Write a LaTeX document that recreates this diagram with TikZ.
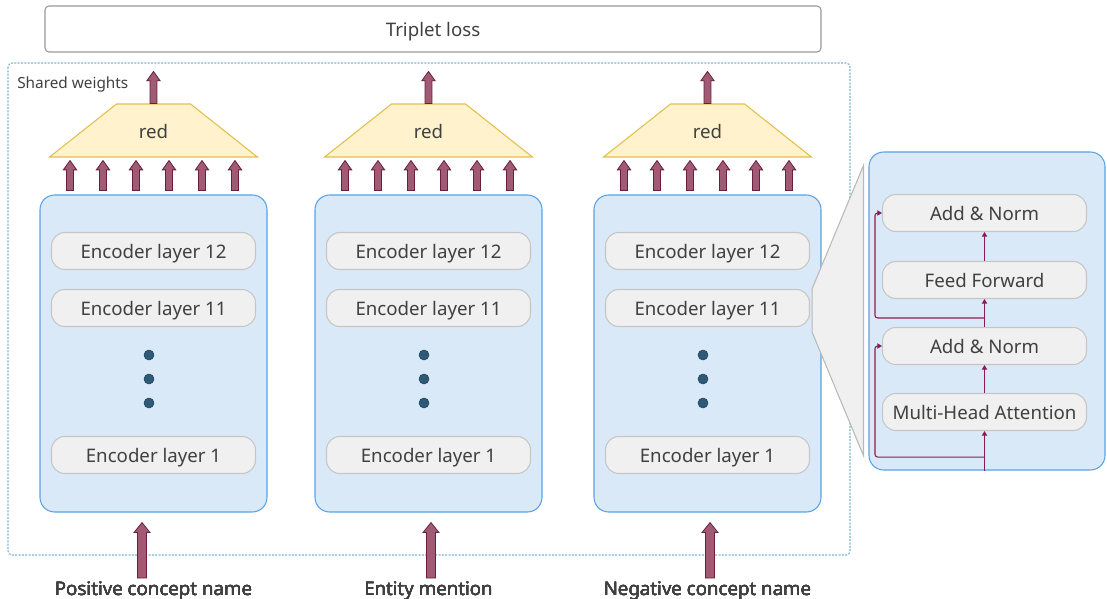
\documentclass[tikz,border=0pt]{standalone}
\usepackage{fontspec}
\setmainfont{Noto Sans}
\usetikzlibrary{shapes.geometric,arrows.meta,calc}
\definecolor{txtgray}{HTML}{404040}
\definecolor{encfill}{HTML}{DAE9F8}
\definecolor{encline}{HTML}{5AA2E4}
\definecolor{pillfill}{HTML}{F0F0F0}
\definecolor{pillline}{HTML}{C6C6C6}
\definecolor{redfill}{HTML}{FFF2CC}
\definecolor{redline}{HTML}{E2C04E}
\definecolor{arrfill}{HTML}{A05A74}
\definecolor{arrline}{HTML}{6A1F3C}
\definecolor{skipline}{HTML}{8C1C4C}
\definecolor{dotblue}{HTML}{2E5A78}
\definecolor{sharedline}{HTML}{7AB2DA}
\newcommand\blockup[5]{\draw[blockarrow] let \p1=(#1), \p2=(#2) in
  (\x1-#3,\y1) -- (\x1-#3,\y2-#5) -- (\x1-#4,\y2-#5) -- (\x1,\y2) -- (\x1+#4,\y2-#5) -- (\x1+#3,\y2-#5) -- (\x1+#3,\y1) -- cycle;}
\begin{document}
\begin{tikzpicture}[x=0.75pt,y=-0.75pt,
    txt/.style={text=txtgray,font=\fontsize{14}{16}\selectfont,text height=15pt,text depth=3.5pt},
    bluebox/.style={draw=encline,fill=encfill,line width=0.8pt,rounded corners=11pt},
    pill/.style={txt,draw=pillline,fill=pillfill,line width=0.8pt,rounded corners=10pt,minimum width=153pt,minimum height=27.75pt,inner sep=0pt},
    redtrap/.style={txt,trapezium,trapezium left angle=43,trapezium right angle=43,trapezium stretches=true,draw=redline,fill=redfill,line width=0.8pt,minimum width=156pt,minimum height=39.75pt,inner sep=0pt},
    blockarrow/.style={fill=arrfill,draw=arrline,line width=0.6pt,line join=miter},
    skip/.style={draw=skipline,line width=0.8pt,rounded corners=2pt,-{Triangle[width=4pt,length=3.5pt]}},
    dot/.style={circle,fill=dotblue,draw=dotblue!70!black,line width=0.4pt,minimum size=7.5pt,inner sep=0pt}]
\useasboundingbox (0,0) rectangle (1107,599);
\node[txt,draw=gray!80,fill=white,line width=0.8pt,rounded corners=3pt,minimum width=582pt,minimum height=34.5pt,inner sep=0pt] (loss) at (433,29) {Triplet loss};
\draw[sharedline,line width=0.8pt,dash pattern=on 1.5pt off 1pt,rounded corners=3pt] (8,63) rectangle (850,555);
\node[txt,anchor=west,font=\fontsize{11.5}{13}\selectfont,text height=12pt,text depth=2.8pt,inner sep=0pt] (shared) at (17,82) {Shared weights};
\foreach \c/\cx/\o/\lbl in {p/153.5/-11.5/Positive concept name,e/428.5/2.5/Entity mention,n/707.5/2.5/Negative concept name}{
  \node[bluebox,minimum width=170.25pt,minimum height=237.75pt] (enc\c) at (\cx,353.5) {};
  \node[pill] (L12\c) at (\cx,251) {Encoder layer 12};
  \node[pill] (L11\c) at (\cx,308) {Encoder layer 11};
  \node[pill] (L1\c) at (\cx,455) {Encoder layer 1};
  \foreach \dy in {355,379,403}
    \node[dot] at (\cx-4.5,\dy) {};
  \node[redtrap] (red\c) at (\cx,130.5) {red};
  \blockup{$(red\c.north)$}{$(red\c.north)+(0,-32)$}{2.6pt}{5pt}{7pt}
  \foreach \dx in {-83.5,-50.5,-17.5,15.5,48.5,81.5}
    \blockup{$(enc\c.north)+(\dx,-4)$}{$(red\c.south)+(\dx,3)$}{2.6pt}{5pt}{7pt}
  \node[txt,inner sep=0pt] (in\c) at (\cx,588) {\lbl};
  \blockup{$(in\c.center)+(\o,-10)$}{$(enc\c.south)+(\o,10)$}{3.4pt}{6pt}{7.5pt}
}
\node[bluebox,minimum width=177pt,minimum height=238.5pt] (layer) at (987,311) {};
\node[pill] (norm2) at (984.5,213) {Add \& Norm};
\node[pill] (ff) at (984.5,280) {Feed Forward};
\node[pill] (norm1) at (984.5,346) {Add \& Norm};
\node[pill] (mha) at (984.5,412) {Multi-Head Attention};
\draw[draw=gray!55,fill=gray!12,line width=0.8pt] ($(layer.north west)+(-5,14)$) -- ($(L11n.north east)+(2,0)$) -- ($(L11n.south east)+(2,5)$) -- ($(layer.south west)+(-5,-15)$) -- cycle;
\coordinate (r1) at ($(mha.south)+(0,26)$);
\coordinate (r2) at ($(norm1.north)+(0,-9)$);
\draw[skip] (mha.south |- layer.south) -- (mha.south);
\draw[skip] (mha.north) -- (norm1.south);
\draw[skip] (norm1.north) -- (ff.south);
\draw[skip] (ff.north) -- (norm2.south);
\draw[skip] (r1) -| ($(norm1.west)+(-7,0)$) -- (norm1.west);
\draw[skip] (r2) -| ($(norm2.west)+(-7,0)$) -- (norm2.west);
\end{tikzpicture}
\end{document}
